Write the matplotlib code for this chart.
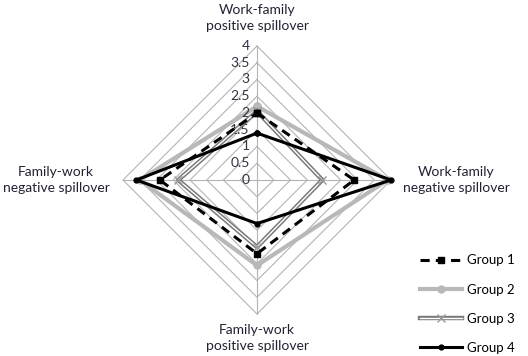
import numpy as np
import matplotlib.pyplot as plt
import matplotlib.patheffects as pe
from matplotlib.legend_handler import HandlerTuple

plt.rcParams['font.family'] = ['Lato', 'DejaVu Sans']

# axes go clockwise from the top
categories = ['Work-family\npositive spillover', 'Work-family\nnegative spillover',
              'Family-work\npositive spillover', 'Family-work\nnegative spillover']
angles = [90, 0, -90, 180]
ticks = [0, 0.5, 1, 1.5, 2, 2.5, 3, 3.5, 4]
tick_labels = ['0', '0.5', '1', '1.5', '2', '2.5', '3', '3.5', '4']

groups = ['Group 1', 'Group 2', 'Group 3', 'Group 4']
group1 = [2.0, 2.9, 2.2, 2.9]
group2 = [2.2, 3.9, 2.55, 3.5]
group3 = [2.05, 1.95, 2.0, 2.35]
group4 = [1.4, 4.0, 1.3, 3.6]

rad = np.deg2rad(angles)


def to_xy(vals):
    v = np.array(vals + vals[:1])
    a = np.append(rad, rad[0])
    return v * np.cos(a), v * np.sin(a)


fig = plt.figure(figsize=(5.28, 3.56), dpi=100)
ax = fig.add_axes([0.1695, 0.0239, 0.6345, 0.941])
ax.set_xlim(-5, 5)
ax.set_ylim(-5, 5)
ax.axis('off')

grid_c = '#b4b4b4'
for t in ticks[1:]:
    gx, gy = to_xy([t] * 4)
    ax.plot(gx, gy, color=grid_c, lw=0.8, zorder=1)
for a in rad:
    ax.plot([0, 4 * np.cos(a)], [0, 4 * np.sin(a)], color=grid_c, lw=0.8, zorder=1)

for t, lab in zip(ticks, tick_labels):
    ax.text(-0.22, t, lab, ha='right', va='center', fontsize=10, color='#333344')

handles = []
x, y = to_xy(group1)
handles.append(ax.plot(x, y, color='black', lw=2.2, ls=(0, (3, 2)), marker='s', ms=5, zorder=4)[0])
x, y = to_xy(group2)
handles.append(ax.plot(x, y, color='#b8b8b8', lw=3, marker='o', ms=5, zorder=2)[0])
x, y = to_xy(group3)
l3 = ax.plot(x, y, color='white', lw=1, zorder=3,
             path_effects=[pe.Stroke(linewidth=3.2, foreground='#7a7a7a'), pe.Normal()])[0]
m3 = ax.plot(x, y, ls='none', marker='x', ms=6, mew=1, mec='#9a9a9a', zorder=3)[0]
handles.append((l3, m3))
x, y = to_xy(group4)
handles.append(ax.plot(x, y, color='black', lw=2.2, marker='o', ms=3.5, zorder=5)[0])

txt = dict(ha='center', fontsize=10, color='#222233', linespacing=1.35)
ax.text(0, 4.42, categories[0], va='bottom', **txt)
ax.text(5.95, 0, categories[1], va='center', **txt)
ax.text(0, -4.3, categories[2], va='top', **txt)
ax.text(-6.0, 0, categories[3], va='center', **txt)

fig.legend(handles, groups, loc='lower left', handler_map={tuple: HandlerTuple(ndivide=1)},
           bbox_to_anchor=(0.795, 0.006), frameon=False, fontsize=9.5,
           handlelength=3.2, labelspacing=1.3, borderpad=0, borderaxespad=0, handletextpad=0.4)

fig.savefig('out.png', dpi=100)
